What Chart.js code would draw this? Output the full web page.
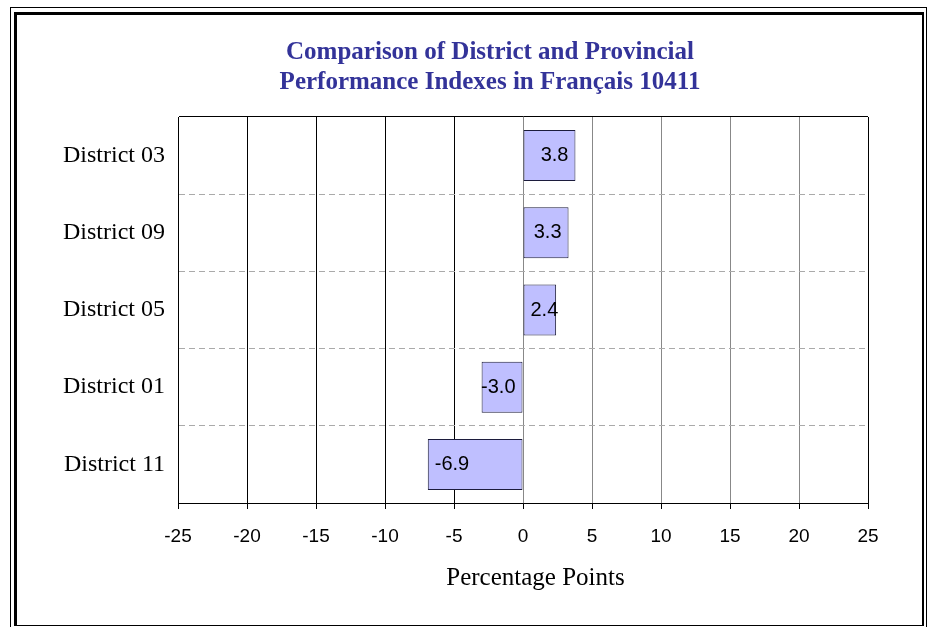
<!DOCTYPE html>
<html>
<head>
<meta charset="utf-8">
<script src="https://cdn.jsdelivr.net/npm/chart.js@4"></script>
<style>
  html, body { margin: 0; padding: 0; background: #fff; width: 930px; height: 627px; overflow: hidden; }
  #outer { position: absolute; left: 10px; top: 7px; width: 917px; height: 640px; border: 1.5px solid #000; box-sizing: border-box; }
  #inner { position: absolute; left: 14px; top: 12px; width: 910px; height: 614px; border-style: solid; border-color: #000; border-width: 3px 2px 1px 3px; box-sizing: border-box; }
  #c { position: absolute; left: 58px; top: 16px; }
</style>
</head>
<body>
<div id="outer"></div>
<div id="inner"></div>
<canvas id="c" width="864" height="606"></canvas>
<script>
const titleLines = ['Comparison of District and Provincial', 'Performance Indexes in Français 10411'];
const categories = ['District 03', 'District 09', 'District 05', 'District 01', 'District 11'];
const values = [3.8, 3.3, 2.4, -3.0, -6.9];
const xMin = -25;
const xMax = 25;
const xStep = 5;
const xTitle = '    Percentage Points';

const barLabels = {
  id: 'barLabels',
  afterDatasetsDraw(chart) {
    const ctx = chart.ctx;
    const meta = chart.getDatasetMeta(0);
    ctx.save();
    ctx.font = '20px "Liberation Sans", Arial, sans-serif';
    ctx.fillStyle = '#000';
    ctx.textBaseline = 'middle';
    meta.data.forEach((bar, i) => {
      const v = values[i];
      const txt = v.toFixed(1);
      const w = ctx.measureText(txt).width;
      const pad = 7;
      let tx;
      if (v >= 0) {
        tx = Math.max(bar.base + pad, bar.x - pad - w);
      } else {
        tx = Math.min(bar.base - pad, bar.x + pad + w) - w;
      }
      ctx.textAlign = 'left';
      ctx.fillText(txt, tx, bar.y);
    });
    ctx.restore();
  }
};

new Chart(document.getElementById('c'), {
  type: 'bar',
  data: {
    labels: categories,
    datasets: [{
      data: values,
      backgroundColor: '#BFBFFF',
      borderColor: '#1c1c3c',
      borderWidth: 1,
      borderSkipped: false,
      barPercentage: 0.66,
      categoryPercentage: 1
    }]
  },
  options: {
    indexAxis: 'y',
    responsive: false,
    devicePixelRatio: 1,
    animation: false,
    layout: { padding: 0 },
    plugins: {
      legend: { display: false },
      tooltip: { enabled: false },
      title: {
        display: true,
        text: titleLines,
        color: '#333399',
        font: { family: '"Liberation Serif", "Times New Roman", serif', size: 25, weight: 'bold', lineHeight: '30px' },
        padding: { top: 22, bottom: 19 }
      }
    },
    scales: {
      x: {
        type: 'linear',
        min: xMin,
        max: xMax,
        afterFit(scale) { scale.height = 119; },
        ticks: {
          stepSize: xStep,
          color: '#000',
          padding: 16,
          font: { family: '"Liberation Sans", Arial, sans-serif', size: 19 }
        },
        grid: {
          color: (c) => {
            const v = c.tick ? c.tick.value : 0;
            return (v < 0 || v >= 25) ? '#000' : '#888';
          },
          tickColor: '#000',
          tickLength: 6,
          lineWidth: 1
        },
        border: { display: true, color: '#000', width: 1 },
        title: {
          display: true,
          text: xTitle,
          color: '#000',
          font: { family: '"Liberation Serif", "Times New Roman", serif', size: 25, lineHeight: 1.2 },
          padding: { top: 0, bottom: 29 }
        }
      },
      y: {
        type: 'category',
        afterFit(scale) { scale.width = 120; },
        ticks: {
          color: '#000',
          padding: 13,
          font: { family: '"Liberation Serif", "Times New Roman", serif', size: 24 }
        },
        grid: {
          offset: true,
          drawTicks: false,
          color: (c) => (c.index >= 1 && c.index <= 4) ? '#aaaaaa' : '#000',
          lineWidth: 1
        },
        border: {
          display: true,
          color: '#000',
          width: 1,
          dash: (c) => (c.index >= 1 && c.index <= 4) ? [6, 4] : []
        }
      },
      gap: {
        type: 'linear',
        position: 'right',
        display: true,
        afterFit(scale) { scale.width = 54; },
        ticks: { display: false },
        grid: { display: false, drawTicks: false },
        border: { display: false }
      }
    }
  },
  plugins: [barLabels]
});
</script>
</body>
</html>
